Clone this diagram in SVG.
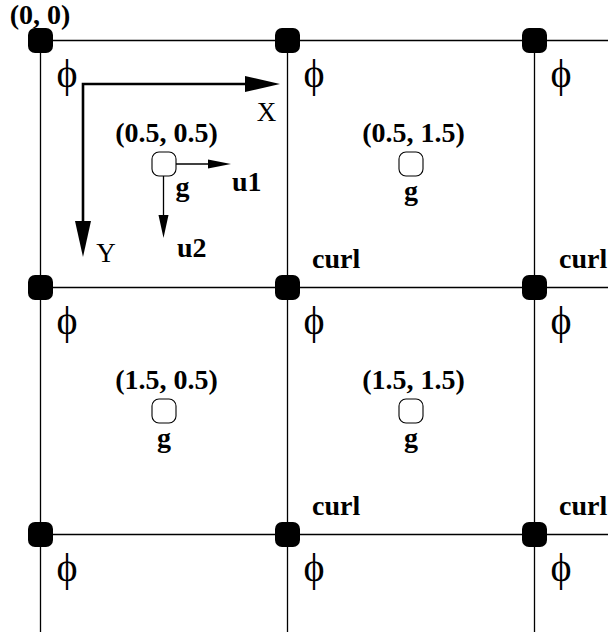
<svg xmlns="http://www.w3.org/2000/svg" width="612" height="637" viewBox="0 0 612 637">
<style>
.grid{stroke:#000;stroke-width:1.3;fill:none}
.dot{fill:#000}
.cell{fill:#fff;stroke:#000;stroke-width:1.1}
.b{font-family:"Liberation Serif","Times New Roman",serif;font-weight:bold;font-size:28px;fill:#000}
.r{font-family:"Liberation Serif","Times New Roman",serif;font-size:27px;fill:#000}
.phi{font-family:"Liberation Serif","DejaVu Serif",serif;font-size:40px;fill:#000;text-anchor:middle}
.ax{stroke:#000;stroke-width:2.6;fill:none}
.th{stroke:#000;stroke-width:1.3;fill:none}
</style>
<g id="connectors">
<line class="grid" x1="40.5" y1="40.5" x2="608" y2="40.5"/>
<line class="grid" x1="40.5" y1="287.5" x2="608" y2="287.5"/>
<line class="grid" x1="40.5" y1="534.5" x2="608" y2="534.5"/>
<line class="grid" x1="40.5" y1="40.5" x2="40.5" y2="632"/>
<line class="grid" x1="287.5" y1="40.5" x2="287.5" y2="632"/>
<line class="grid" x1="534.5" y1="40.5" x2="534.5" y2="632"/>
<g id="axes">
<polyline class="ax" points="248,84 83,84 83,223"/>
<polygon points="245,76 280,84 245,92"/>
<polygon points="75,221 83,257 91,221"/>
<text class="r" x="266.5" y="121" text-anchor="middle">X</text>
<text class="r" x="106" y="262" text-anchor="middle">Y</text>
</g>
<g id="velocity">
<line class="th" x1="164" y1="164" x2="210" y2="164"/>
<polygon points="208,159.5 231,164 208,168.5"/>
<line class="th" x1="163.5" y1="164" x2="163.5" y2="217"/>
<polygon points="158.5,215 163.5,238 168.5,215"/>
<text class="b" x="232" y="191">u1</text>
<text class="b" x="177" y="257">u2</text>
</g>
</g>
<g id="nodes">
<g id="n00"><rect class="dot" x="28" y="28" width="25" height="25" rx="7"/><text class="b" x="40" y="24" text-anchor="middle" font-size="26">(0, 0)</text><text class="phi" x="67" y="87">ϕ</text></g>
<g id="n01"><rect class="dot" x="275" y="28" width="25" height="25" rx="7"/><text class="phi" x="314" y="87">ϕ</text></g>
<g id="n02"><rect class="dot" x="522" y="28" width="25" height="25" rx="7"/><text class="phi" x="561" y="87">ϕ</text></g>
<g id="n10"><rect class="dot" x="28" y="275" width="25" height="25" rx="7"/><text class="phi" x="67" y="334">ϕ</text></g>
<g id="n11"><rect class="dot" x="275" y="275" width="25" height="25" rx="7"/><text class="b" x="312" y="268">curl</text><text class="phi" x="314" y="334">ϕ</text></g>
<g id="n12"><rect class="dot" x="522" y="275" width="25" height="25" rx="7"/><text class="b" x="559" y="268">curl</text><text class="phi" x="561" y="334">ϕ</text></g>
<g id="n20"><rect class="dot" x="28" y="522" width="25" height="25" rx="7"/><text class="phi" x="67" y="581">ϕ</text></g>
<g id="n21"><rect class="dot" x="275" y="522" width="25" height="25" rx="7"/><text class="b" x="312" y="515">curl</text><text class="phi" x="314" y="581">ϕ</text></g>
<g id="n22"><rect class="dot" x="522" y="522" width="25" height="25" rx="7"/><text class="b" x="559" y="515">curl</text><text class="phi" x="561" y="581">ϕ</text></g>
<g id="c00"><rect class="cell" x="152" y="152" width="24" height="24" rx="7"/><text class="b" x="166.5" y="142" text-anchor="middle">(0.5, 0.5)</text><text class="b" x="182.5" y="196" text-anchor="middle">g</text></g>
<g id="c01"><rect class="cell" x="399" y="152" width="24" height="24" rx="7"/><text class="b" x="413.5" y="142" text-anchor="middle">(0.5, 1.5)</text><text class="b" x="411" y="200" text-anchor="middle">g</text></g>
<g id="c10"><rect class="cell" x="152" y="399" width="24" height="24" rx="7"/><text class="b" x="166.5" y="389" text-anchor="middle">(1.5, 0.5)</text><text class="b" x="164" y="447" text-anchor="middle">g</text></g>
<g id="c11"><rect class="cell" x="399" y="399" width="24" height="24" rx="7"/><text class="b" x="413.5" y="389" text-anchor="middle">(1.5, 1.5)</text><text class="b" x="411" y="447" text-anchor="middle">g</text></g>
</g>
</svg>
